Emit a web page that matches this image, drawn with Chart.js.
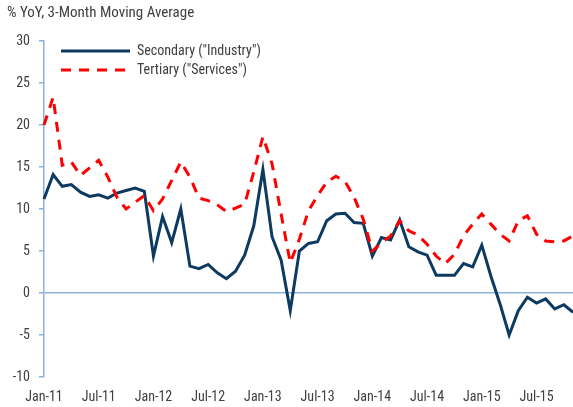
<!DOCTYPE html>
<html>
<head>
<meta charset="utf-8">
<script src="https://cdn.jsdelivr.net/npm/chart.js@4/dist/chart.umd.min.js"></script>
<style>
html,body{margin:0;padding:0;background:#ffffff;}
#wrap{width:573px;height:407px;position:relative;}
</style>
</head>
<body>
<div id="wrap"><canvas id="c" width="573" height="407"></canvas></div>
<script>
// ---- data ----
const chartTitle = '% YoY, 3-Month Moving Average';
const monthNames = ['Jan','Feb','Mar','Apr','May','Jun','Jul','Aug','Sep','Oct','Nov','Dec'];
const yearSuffixes = ['11','12','13','14','15'];
const lastCategory = 'Nov-15';
const categories = [];
for (const yr of yearSuffixes) {
  for (const m of monthNames) {
    const lab = m + '-' + yr;
    categories.push(lab);
    if (lab === lastCategory) break;
  }
}
const seriesNames = ['Secondary ("Industry")', 'Tertiary ("Services")'];
const secondary = [
  11.2, 14.1, 12.7, 12.9, 12.0, 11.5, 11.7, 11.3, 11.9, 12.2, 12.5, 12.1,
  4.4, 9.1, 6.0, 10.0, 3.2, 2.9, 3.4, 2.4, 1.7, 2.6, 4.5, 8.0,
  14.7, 6.7, 3.9, -2.1, 5.0, 5.9, 6.1, 8.6, 9.4, 9.5, 8.4, 8.3,
  4.4, 6.6, 6.3, 8.7, 5.5, 4.9, 4.5, 2.1, 2.1, 2.1, 3.5, 3.1,
  5.7, 2.0, -1.3, -5.0, -2.1, -0.5, -1.2, -0.7, -1.9, -1.4, -2.3
];
const tertiary = [
  20.0, 23.3, 15.2, 15.6, 14.0, 14.9, 15.8, 13.8, 11.4, 10.0, 10.8, 11.6,
  9.8, 11.2, 13.4, 15.6, 13.8, 11.3, 11.0, 10.5, 9.7, 10.1, 10.6, 14.4,
  18.6, 15.4, 9.4, 3.6, 6.4, 9.8, 11.6, 13.2, 13.9, 13.3, 11.4, 8.8,
  5.0, 6.0, 6.8, 8.6, 7.4, 6.9, 5.8, 4.4, 3.5, 4.6, 6.8, 8.2,
  9.4, 8.2, 7.0, 6.2, 8.6, 9.2, 7.0, 6.2, 6.1, 6.2, 6.8
];
const yMin = -10, yMax = 30, yStep = 5;
const xLabelEvery = 6;

// ---- styles ----
const FONT = "'Liberation Sans Narrow', 'Roboto Condensed', 'Liberation Sans', sans-serif";
const TEXT = '#404040';
const AXIS = '#8eb1dc';
const NAVY = '#0c3a60';
const RED = '#ff0000';
const DASH = [10, 8];

const overlay = {
  id: 'overlay',
  afterDraw(chart) {
    const ctx = chart.ctx;
    const ca = chart.chartArea;
    ctx.save();
    ctx.font = '15px ' + FONT;
    ctx.fillStyle = TEXT;
    ctx.textBaseline = 'middle';
    ctx.textAlign = 'left';
    ctx.fillText(chartTitle, 7, 13);
    // legend
    ctx.font = '14px ' + FONT;
    const x0 = ca.left + 17, x1 = ca.left + 86, tx = ca.left + 93;
    const rows = [ca.top + 10, ca.top + 29];
    chart.data.datasets.forEach((ds, i) => {
      const y = rows[i];
      ctx.beginPath();
      ctx.lineWidth = ds.borderWidth;
      ctx.strokeStyle = ds.borderColor;
      ctx.setLineDash(ds.borderDash || []);
      ctx.moveTo(x0, y);
      ctx.lineTo(x1, y);
      ctx.stroke();
      ctx.setLineDash([]);
      ctx.fillStyle = TEXT;
      ctx.fillText(ds.label, tx, y);
    });
    ctx.restore();
  }
};

new Chart(document.getElementById('c'), {
  type: 'line',
  data: {
    labels: categories,
    datasets: [
      { label: seriesNames[0], data: secondary, borderColor: NAVY, borderWidth: 3,
        pointRadius: 0, tension: 0, fill: false, order: 1, clip: false },
      { label: seriesNames[1], data: tertiary, borderColor: RED, borderWidth: 3,
        borderDash: DASH, pointRadius: 0, tension: 0, fill: false, order: 0, clip: false }
    ]
  },
  options: {
    responsive: false,
    animation: false,
    layout: { padding: { top: 41, bottom: 0, left: 0, right: 0 } },
    plugins: { legend: { display: false }, title: { display: false }, tooltip: { enabled: false } },
    scales: {
      x: {
        type: 'category',
        offset: false,
        afterFit: s => { s.height = 30; },
        grid: { display: false, drawTicks: false, tickLength: 0 },
        border: { display: false },
        ticks: {
          autoSkip: false, maxRotation: 0, minRotation: 0, padding: 12,
          color: TEXT, font: { family: FONT, size: 14 },
          callback: function (v, i) { return i % xLabelEvery === 0 ? categories[i] : null; }
        }
      },
      y: {
        min: yMin, max: yMax,
        afterFit: s => { s.width = 44; },
        grid: {
          drawOnChartArea: true,
          color: c => (c.tick && c.tick.value === 0) ? AXIS : 'rgba(0,0,0,0)',
          lineWidth: 1.5,
          tickColor: AXIS, tickLength: 5, drawTicks: true
        },
        border: { display: true, color: AXIS, width: 1.5 },
        ticks: { stepSize: yStep, padding: 9, color: TEXT, font: { family: FONT, size: 14 } }
      }
    }
  },
  plugins: [overlay]
});
</script>
</body>
</html>
